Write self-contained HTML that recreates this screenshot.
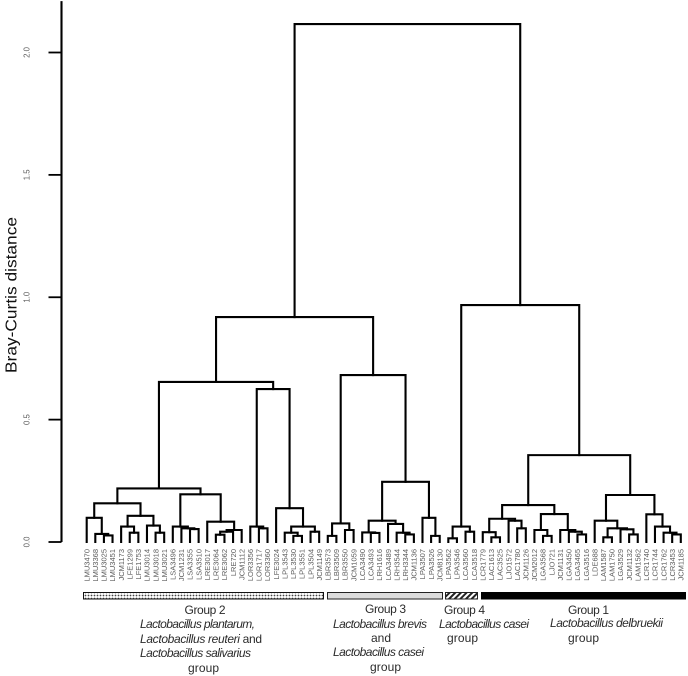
<!DOCTYPE html>
<html lang="en">
<head>
<meta charset="utf-8">
<title>Bray-Curtis dendrogram</title>
<style>
html,body{margin:0;padding:0;background:#fff;}
svg{display:block;}
.leaf{font:7.5px "Liberation Sans",sans-serif;fill:#5c5c5c;}
.tick-label{font:7.8px "Liberation Sans",sans-serif;fill:#5c5c5c;}
.ann{font:12px "Liberation Sans",sans-serif;fill:#2b2b2b;}
.it{font-style:italic;}
</style>
</head>
<body>
<svg id="chart" xmlns="http://www.w3.org/2000/svg" width="688" height="676" viewBox="0 0 688 676">
<defs>
<pattern id="dots" width="3" height="3" patternUnits="userSpaceOnUse"><rect width="3" height="3" fill="#fff"/><circle cx="1.5" cy="1.5" r="0.9" fill="#444"/></pattern>
<pattern id="hatch" width="4" height="4" patternUnits="userSpaceOnUse" patternTransform="rotate(45)"><rect width="4" height="4" fill="#fff"/><rect width="2" height="4" fill="#222"/></pattern>
</defs>
<text transform="translate(16.5,295) rotate(-90)" text-anchor="middle" style="font:16px 'Liberation Sans',sans-serif;fill:#111" textLength="156" lengthAdjust="spacingAndGlyphs">Bray-Curtis distance</text>
<g id="tree" fill="none" stroke="#000" stroke-width="2.1" stroke-linecap="square"></g>
<g id="axis"></g>
<g id="leaves"></g>

<rect x="83.5" y="592.5" width="240" height="6.5" fill="url(#dots)" stroke="#111" stroke-width="1"/>
<rect x="327.5" y="592.5" width="115" height="6.5" fill="#dcdcdc" stroke="#222" stroke-width="1"/>
<rect x="445.5" y="592.5" width="32" height="6.5" fill="url(#hatch)" stroke="#222" stroke-width="1"/>
<rect x="481" y="592" width="205" height="7.5" fill="#000"/>

<g class="ann">
<text x="184.500" y="614" textLength="41">Group 2</text>
<text class="it" x="140" y="628" textLength="115">Lactobacillus plantarum,</text>
<text x="140" y="643" textLength="122"><tspan class="it">Lactobacillus reuteri</tspan> and</text>
<text class="it" x="140" y="657" textLength="111">Lactobacillus salivarius</text>
<text x="188" y="672" textLength="31">group</text>
</g>
<g class="ann">
<text x="365" y="613" textLength="41">Group 3</text>
<text class="it" x="333" y="628" textLength="94">Lactobacillus brevis</text>
<text x="371" y="642" textLength="20">and</text>
<text class="it" x="333" y="656" textLength="91">Lactobacillus casei</text>
<text x="370" y="671" textLength="31">group</text>
</g>
<g class="ann">
<text x="444" y="614" textLength="41">Group 4</text>
<text class="it" x="439" y="628" textLength="90">Lactobacillus casei</text>
<text x="447" y="642" textLength="31">group</text>
</g>
<g class="ann">
<text x="568" y="614" textLength="41">Group 1</text>
<text class="it" x="550" y="627" textLength="113">Lactobacillus delbruekii</text>
<text x="568" y="642" textLength="31">group</text>
</g>
</svg>
<script>
// Leaf order, left to right
const leafLabels = ["LMU3470","LMU3368","LMU3025","LMU3451","JCM1173","LFE1299","LFE1753","LMU3014","LMU3018","LMU3021","LSA3496","JCM1231","LSA3355","LSA3510","LRE3017","LRE3064","LRE3062","LRE720","JCM1112","LOR3356","LOR1717","LOR3360","LFE3024","LPL3543","LPL3530","LPL3551","LPL3504","JCM1149","LBR3573","LBR3509","LBR3550","JCM1059","LCA3490","LCA3493","LRH1616","LCA3489","LRH3544","LRH3344","JCM1136","LPA3507","LPA3526","JCM8130","LPA3562","LPA3546","LCA3560","LCA3518","LCR1779","LAC1613","LAC3525","LJO1572","LAC1780","JCM1126","JCM2012","LGA3568","LJO721","JCM1131","LGA3450","LGA3465","LGA3516","LDE688","LAM1587","LAM1750","LGA3529","JCM1132","LAM1562","LCR1740","LCR1744","LCR1762","LCR3453","JCM1185"];
// Each merge joins two items: a leaf name, or the 1-based number of an earlier merge
const merges = [
["LMU3025","LMU3451"],["LMU3368",1],["LMU3470",2],["LFE1299","LFE1753"],["JCM1173",4],["LMU3018","LMU3021"],["LMU3014",6],[5,7],[3,8],
["LSA3355","LSA3510"],["JCM1231",10],["LSA3496",11],["LRE3064","LRE3062"],[13,"LRE720"],[14,"JCM1112"],["LRE3017",15],[12,16],[9,17],
["LOR1717","LOR3360"],["LOR3356",19],["LPL3530","LPL3551"],["LPL3543",21],["LPL3504","JCM1149"],[22,23],["LFE3024",24],[20,25],[18,26],
["LBR3573","LBR3509"],["LBR3550","JCM1059"],[28,29],["LCA3493","LRH1616"],["LCA3490",31],["LRH3344","JCM1136"],["LRH3544",33],["LCA3489",34],[32,35],
["LPA3526","JCM8130"],["LPA3507",37],[36,38],[30,39],[27,40],
["LPA3562","LPA3546"],["LCA3560","LCA3518"],[42,43],
["LAC1613","LAC3525"],["LCR1779",45],["LAC1780","JCM1126"],["LJO1572",47],[46,48],["LGA3568","LJO721"],["JCM2012",50],["LGA3465","LGA3516"],["LGA3450",52],["JCM1131",53],[51,54],[49,55],
["LAM1587","LAM1750"],["JCM1132","LAM1562"],["LGA3529",58],[57,59],["LDE688",60],["LCR3453","JCM1185"],["LCR1762",62],["LCR1744",63],["LCR1740",64],[61,65],[56,66],[44,67],[41,68]
];
// Bray-Curtis distance of each merge, same order as merges
const mergeHeights = [
0.027,0.033,0.099,0.038,0.063,0.038,0.067,0.107,0.158,
0.053,0.056,0.063,0.030,0.042,0.049,0.083,0.195,0.219,
0.056,0.063,0.025,0.038,0.042,0.063,0.138,0.625,0.654,
0.025,0.049,0.076,0.037,0.039,0.031,0.038,0.074,0.087,
0.025,0.099,0.246,0.682,0.919,
0.015,0.042,0.063,
0.019,0.040,0.056,0.087,0.095,0.025,0.049,0.031,0.042,0.049,0.114,0.151,
0.019,0.031,0.052,0.056,0.087,0.031,0.038,0.063,0.113,0.192,0.355,0.968,2.116
];
const yTicks = [0,0.5,1,1.5,2];
const yTickLabels = ["0.0","0.5","1.0","1.5","2.0"];
const yAxisMax = 2.21;

const SVGNS = "http://www.w3.org/2000/svg";
function xScale(i){ return 86.7 + i * 8.61; }
function yScale(v){ return 542 - v * 244.75; }

const treeG = document.getElementById("tree");
const axisG = document.getElementById("axis");
const leavesG = document.getElementById("leaves");

// Axis
const axisLine = document.createElementNS(SVGNS, "line");


axisLine.setAttribute("x1", 61.5);
axisLine.setAttribute("x2", 61.5);
axisLine.setAttribute("y1", yScale(yAxisMax));
axisLine.setAttribute("y2", yScale(0));
axisLine.setAttribute("stroke", "#000");
axisLine.setAttribute("stroke-width", "2.1");
axisG.appendChild(axisLine);

yTicks.forEach(function(t, i){
  const tick = document.createElementNS(SVGNS, "line");
  
  
  tick.setAttribute("x1", 48.5);
  tick.setAttribute("x2", 61.5);
  tick.setAttribute("y1", yScale(t));
  tick.setAttribute("y2", yScale(t));
  tick.setAttribute("stroke", "#000");
  tick.setAttribute("stroke-width", "1.8");
  axisG.appendChild(tick);
  const lab = document.createElementNS(SVGNS, "text");
  
  
  lab.setAttribute("class", "tick-label");
  lab.setAttribute("text-anchor", "middle");
  lab.setAttribute("transform", "translate(29.5," + yScale(t) + ") rotate(-90)");
  lab.textContent = yTickLabels[i];
  axisG.appendChild(lab);
});

// Leaf labels
leafLabels.forEach(function(name, i){
  const t = document.createElementNS(SVGNS, "text");
  
  
  t.setAttribute("class", "leaf");
  t.setAttribute("text-anchor", "end");
  t.setAttribute("transform", "translate(" + (xScale(i) + 2.7) + ",549) rotate(-90)");
  t.textContent = name;
  leavesG.appendChild(t);
});

// Dendrogram
const nodeX = [];
function itemX(item){ return typeof item === "number" ? nodeX[item - 1] : xScale(leafLabels.indexOf(item)); }
function itemV(item){ return typeof item === "number" ? mergeHeights[item - 1] : 0; }
merges.forEach(function(pair, i){
  const xa = itemX(pair[0]);
  const xb = itemX(pair[1]);
  const h = mergeHeights[i];
  nodeX[i] = (xa + xb) / 2;
  const p = document.createElementNS(SVGNS, "path");
  
  
  p.setAttribute("d", "M" + xa + " " + yScale(itemV(pair[0])) + "V" + yScale(h) + "H" + xb + "V" + yScale(itemV(pair[1])));
  treeG.appendChild(p);
});
</script>
</body>
</html>
